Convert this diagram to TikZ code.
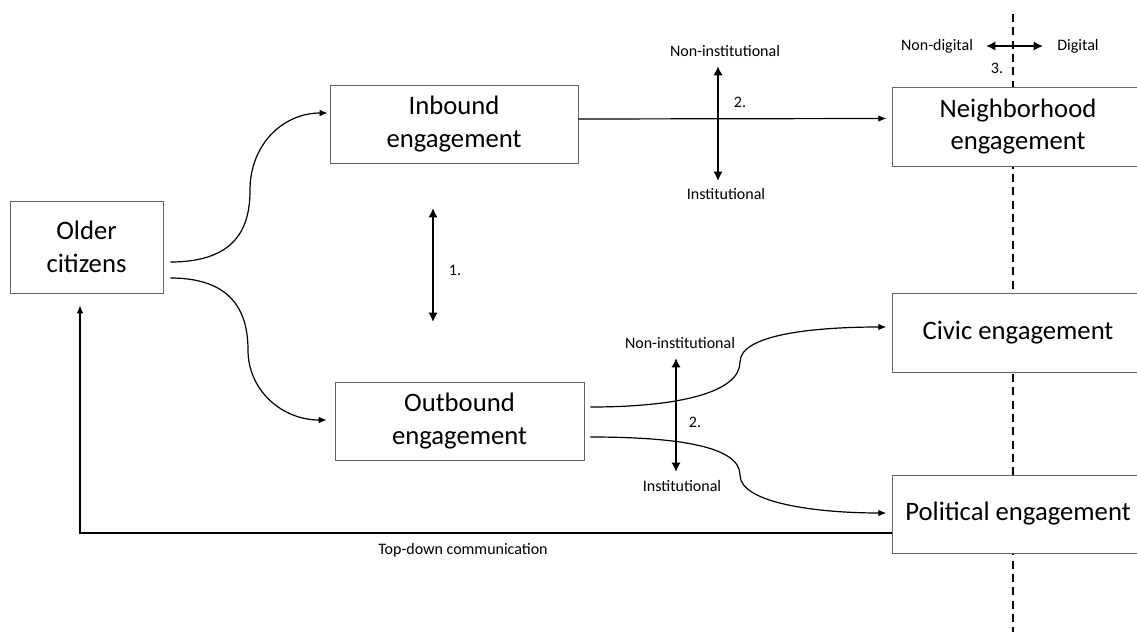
\documentclass[tikz,border=0pt]{standalone}
\usepackage{fontspec}
\setmainfont{Carlito}
\usetikzlibrary{arrows.meta,calc}
\begin{document}
\begin{tikzpicture}[x=0.75pt,y=-0.75pt,
  box/.style={draw=black!60, line width=0.6pt, fill=white, inner sep=0pt, align=center,
              font=\fontsize{20}{24.5}\selectfont},
  lbl/.style={font=\fontsize{12}{14}\selectfont, inner sep=0pt},
  conn/.style={line width=0.9pt, -{Latex[length=6pt,width=5pt]}},
  dbl/.style={line width=2.1pt, {Latex[length=7pt,width=7pt]}-{Latex[length=7pt,width=7pt]}},
  divider/.style={dash pattern=on 6pt off 4pt, line width=0.8pt}
]
\useasboundingbox (0,0) rectangle (1137,631);
\begin{scope}
\clip (0,0) rectangle (1137,631);
\coordinate (dtop) at (1013,14);
\coordinate (dbot) at (1013,640);
\draw[divider] (dtop) -- (dbot);
\node[box, minimum width=114.75pt, minimum height=69pt] (older) at (86.5,247) {Older\\citizens};
\node[box, minimum width=186pt, minimum height=58.5pt] (inbound) at (454,124) {Inbound\\engagement};
\node[box, minimum width=186.75pt, minimum height=58.5pt] (outbound) at (459.5,421) {Outbound\\engagement};
\node[box, minimum width=188pt, minimum height=59.25pt] (neigh) at (1018,126.5) {Neighborhood\\engagement};
\node[box, minimum width=188pt, minimum height=59.25pt] (civic) at (1018,332.5) {Civic engagement};
\node[box, minimum width=188pt, minimum height=58.5pt] (political) at (1018,514) {Political engagement};
\end{scope}

% curved connectors
\draw[conn] ($(older.east)+(7,15)$) .. controls +(68,0) and +(0,35) .. (250,190)
            .. controls +(0,-45) and +(-45,0) .. ($(inbound.west)+(-2,-11)$);
\draw[conn] ($(older.east)+(7,31)$) .. controls +(62,0) and +(0,-38) .. (248,350)
            .. controls +(0,40) and +(-45,0) .. ($(outbound.west)+(-8,-1)$);
\draw[conn] ($(inbound.east)+(0,-5)$) -- ($(neigh.west)+(-6,-8)$);
\draw[conn] ($(outbound.east)+(6,-14)$) .. controls +(90,0) and +(0,30) .. (740,362)
            .. controls +(0,-28) and +(-70,0) .. ($(civic.west)+(-6,-5.5)$);
\draw[conn] ($(outbound.east)+(6,16)$) .. controls +(90,0) and +(0,-28) .. (740,475)
            .. controls +(0,28) and +(-70,0) .. ($(political.west)+(-6,-1)$);
\draw[conn] ($(political.west)+(0,19)$) -| ($(older.south)+(-6.5,12)$);
\node[lbl] (td) at (463,550) {Top-down communication};

% double arrows
\coordinate (a1t) at (433,208);
\coordinate (a1b) at (433,322);
\draw[dbl] (a1t) -- (a1b);
\node[lbl] (n1) at (455,270) {1.};

\coordinate (a2t) at (718,66);
\coordinate (a2b) at (718,181);
\draw[dbl] (a2t) -- (a2b);
\node[lbl] (ni1) at (725,51) {Non-institutional};
\node[lbl] (in1) at (726,194) {Institutional};
\node[lbl] (n2a) at (740,102) {2.};

\coordinate (a3t) at (676,358);
\coordinate (a3b) at (676,472);
\draw[dbl] (a3t) -- (a3b);
\node[lbl] (ni2) at (680,343) {Non-institutional};
\node[lbl] (in2) at (682,486) {Institutional};
\node[lbl] (n2b) at (695,422) {2.};

\coordinate (a4l) at (986,46);
\coordinate (a4r) at (1043,46);
\draw[dbl] (a4l) -- (a4r);
\node[lbl] (nd) at (937,46) {Non-digital};
\node[lbl] (dg) at (1078,46) {Digital};
\node[lbl] (n3) at (997,68) {3.};
\end{tikzpicture}
\end{document}
